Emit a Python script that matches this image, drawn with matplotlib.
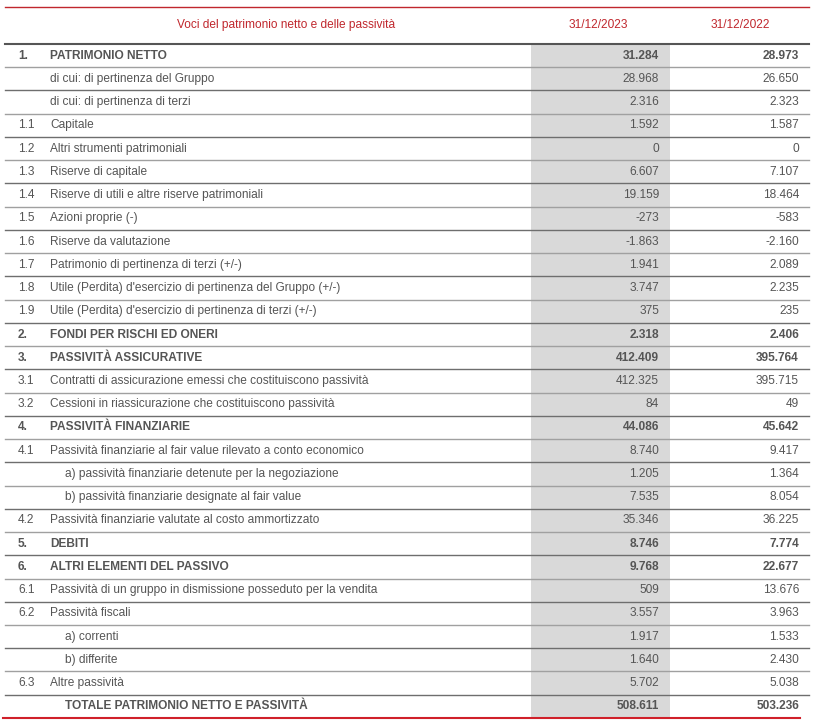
import matplotlib.pyplot as plt

# Table content
codes = ['1.', '', '', '1.1', '1.2', '1.3', '1.4', '1.5', '1.6', '1.7', '1.8', '1.9',
         '2.', '3.', '3.1', '3.2', '4.', '4.1', '', '', '4.2', '5.', '6.', '6.1', '6.2',
         '', '', '6.3', '']
labels = ['PATRIMONIO NETTO',
          'di cui: di pertinenza del Gruppo',
          'di cui: di pertinenza di terzi',
          'Capitale',
          'Altri strumenti patrimoniali',
          'Riserve di capitale',
          'Riserve di utili e altre riserve patrimoniali',
          'Azioni proprie (-)',
          'Riserve da valutazione',
          'Patrimonio di pertinenza di terzi (+/-)',
          "Utile (Perdita) d'esercizio di pertinenza del Gruppo (+/-)",
          "Utile (Perdita) d'esercizio di pertinenza di terzi (+/-)",
          'FONDI PER RISCHI ED ONERI',
          'PASSIVITÀ ASSICURATIVE',
          'Contratti di assicurazione emessi che costituiscono passività',
          'Cessioni in riassicurazione che costituiscono passività',
          'PASSIVITÀ FINANZIARIE',
          'Passività finanziarie al fair value rilevato a conto economico',
          'a) passività finanziarie detenute per la negoziazione',
          'b) passività finanziarie designate al fair value',
          'Passività finanziarie valutate al costo ammortizzato',
          'DEBITI',
          'ALTRI ELEMENTI DEL PASSIVO',
          'Passività di un gruppo in dismissione posseduto per la vendita',
          'Passività fiscali',
          'a) correnti',
          'b) differite',
          'Altre passività',
          'TOTALE PATRIMONIO NETTO E PASSIVITÀ']
values_2023 = ['31.284', '28.968', '2.316', '1.592', '0', '6.607', '19.159', '-273',
               '-1.863', '1.941', '3.747', '375', '2.318', '412.409', '412.325', '84',
               '44.086', '8.740', '1.205', '7.535', '35.346', '8.746', '9.768', '509',
               '3.557', '1.917', '1.640', '5.702', '508.611']
values_2022 = ['28.973', '26.650', '2.323', '1.587', '0', '7.107', '18.464', '-583',
               '-2.160', '2.089', '2.235', '235', '2.406', '395.764', '395.715', '49',
               '45.642', '9.417', '1.364', '8.054', '36.225', '7.774', '22.677', '13.676',
               '3.963', '1.533', '2.430', '5.038', '503.236']
bold_rows = [0, 12, 13, 16, 21, 22, 28]
indent_rows = [18, 19, 25, 26, 28]
header = ['Voci del patrimonio netto e delle passività', '31/12/2023', '31/12/2022']

plt.rcParams['font.family'] = ['Liberation Sans', 'DejaVu Sans']

fig = plt.figure(figsize=(8.13, 7.27), dpi=100)
ax = fig.add_axes([0, 0, 1, 1])
ax.set_xlim(0, 813)
ax.set_ylim(727, 0)
ax.axis('off')

red = '#c0272d'
txt = '#555555'
fs = 8.6
top = 44
row_h = 23.24
n = len(labels)
bottom = top + n * row_h

# gray column for current year
ax.fill_between([531, 670], top, bottom, color='#d9d9d9', lw=0, zorder=0)

# header
ax.plot([5, 809], [7, 7], color=red, lw=1.0)
ax.text(286, 25, header[0], color=red, fontsize=fs, ha='center', va='center')
ax.text(598, 25, header[1], color=red, fontsize=fs, ha='center', va='center')
ax.text(740, 25, header[2], color=red, fontsize=fs, ha='center', va='center')
ax.plot([5, 809], [top, top], color='#555555', lw=1.5)

for i in range(n):
    yc = top + (i + 0.5) * row_h
    weight = 'bold' if i in bold_rows else 'normal'
    ax.text(18, yc, codes[i], color=txt, fontsize=fs, ha='left', va='center', weight=weight)
    x_lab = 65 if i in indent_rows else 50
    ax.text(x_lab, yc, labels[i], color=txt, fontsize=fs, ha='left', va='center', weight=weight)
    ax.text(659, yc, values_2023[i], color=txt, fontsize=fs, ha='right', va='center', weight=weight)
    ax.text(799, yc, values_2022[i], color=txt, fontsize=fs, ha='right', va='center', weight=weight)
    yb = top + (i + 1) * row_h
    if i < n - 1:
        lc = '#6e6e6e' if i % 2 == 1 else '#a0a0a0'
        ax.plot([5, 809], [yb, yb], color=lc, lw=1.0)

ax.plot([3, 800], [bottom, bottom], color='#d0202a', lw=1.5)

fig.savefig('out.png', dpi=100)
